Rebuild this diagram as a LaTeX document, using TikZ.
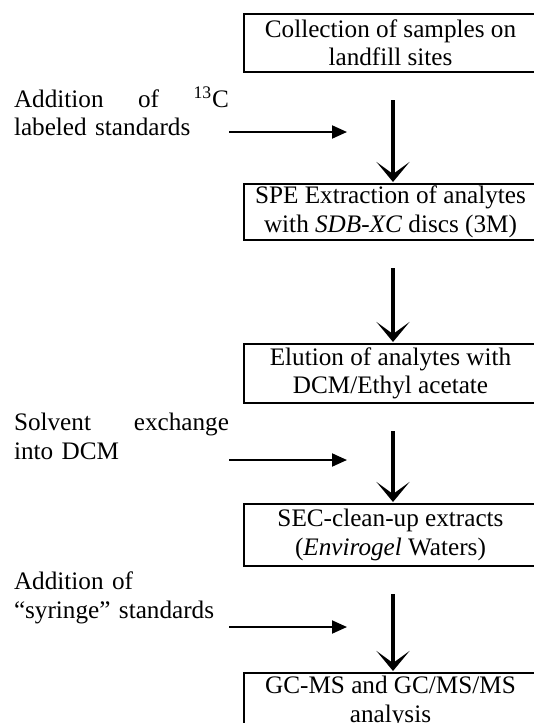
\documentclass[tikz,border=0pt]{standalone}
\usepackage{fontspec}
\setmainfont{Liberation Serif}
\usetikzlibrary{arrows.meta}

\tikzset{
  stagebox/.style={draw, line width=1pt, align=center, inner sep=0pt,
    minimum width=147pt, font=\fontsize{12.6}{14.3}\selectfont},
  sidenote/.style={anchor=west, inner sep=0pt, text width=107.5pt,
    font=\fontsize{12.6}{14.3}\selectfont},
  flow/.style={-{Stealth[length=10pt,width=16.5pt,inset=6pt]}, line width=1.7pt,
    shorten <=13.5pt, shorten >=0.5pt},
  feed/.style={-{Triangle[length=7.5pt,width=6.5pt]}, line width=1pt},
}

\begin{document}
\begin{tikzpicture}[x=0.5pt,y=-0.5pt]
        \useasboundingbox (0,0) rectangle (534,723);
        \clip (0,0) rectangle (534,723);

        % Steps of the procedure
        \node[stagebox, minimum height=29.2pt] (collect) at (390.5,42.8) {Collection of samples on\\landfill sites};
        \node[stagebox, minimum height=28pt] (spe) at (390.5,212) {SPE Extraction of analytes\\with \textit{SDB-XC} discs (3M)};
        \node[stagebox, minimum height=29.5pt] (elute) at (390.5,373.5) {Elution of analytes with\\DCM/Ethyl acetate};
        \node[stagebox, minimum height=31pt] (secclean) at (390.5,535) {SEC-clean-up extracts\\(\textit{Envirogel} Waters)};
        \node[stagebox, minimum height=29pt] (gcms) at (390.5,702) {GC-MS and GC/MS/MS\\analysis};

        % Additions on the left
        \node[sidenote] (spike) at (13.6,111.5) {Addition\hfill of\hfill \textsuperscript{13}C\\labeled standards};
        \node[sidenote] (solvex) at (13.6,436.5) {Solvent\hfill exchange\\into DCM};
        \node[sidenote] (syringe) at (13.6,598) {Addition of\\“syringe” standards};
        \coordinate (spike-tip) at (347,132);
        \coordinate (solvex-tip) at (347,460);
        \coordinate (syringe-tip) at (347,627);

        % Arrows
        \foreach \a/\b in {collect/spe, spe/elute, elute/secclean, secclean/gcms} {
            \draw[flow] ([xshift=1.25pt]\a.south) -- ([xshift=1.25pt]\b.north);
        }
        \foreach \n in {spike, solvex, syringe} {
            \draw[feed] (\n.east |- \n-tip) -- (\n-tip);
        }
    \end{tikzpicture}
\end{document}
